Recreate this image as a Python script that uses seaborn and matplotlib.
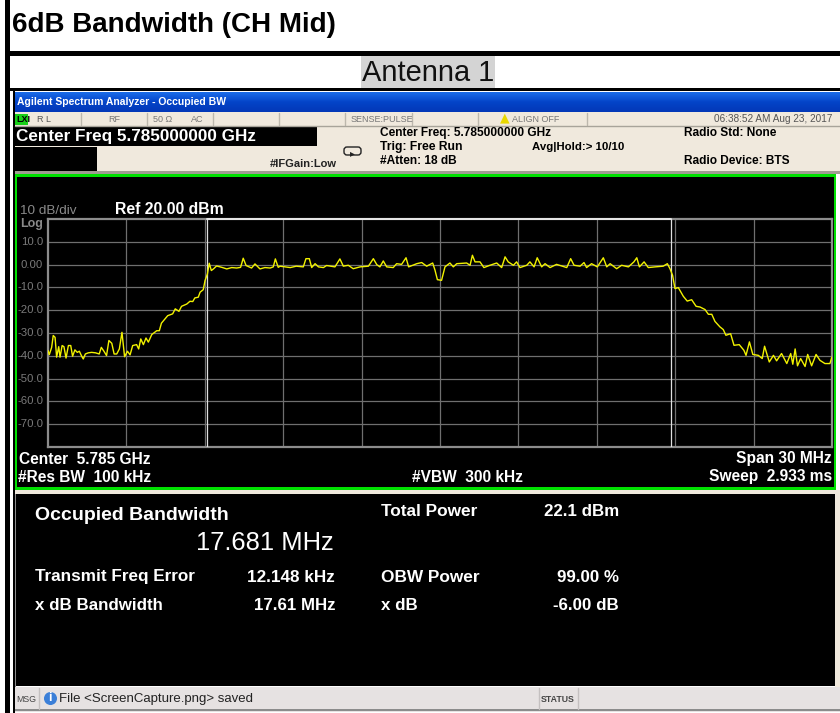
import numpy as np
import pandas as pd
import seaborn as sns
import matplotlib.pyplot as plt
from matplotlib.patches import Rectangle, FancyBboxPatch

title = "6dB Bandwidth (CH Mid)"
db_ticks = [10, 0, -10, -20, -30, -40, -50, -60, -70]
db_tick_labels = ["10.0", "0.00", "-10.0", "-20.0", "-30.0", "-40.0", "-50.0", "-60.0", "-70.0"]
freq_ticks = [-12, -9, -6, -3, 0, 3, 6, 9, 12]
obw_edges = [-8.9, 8.84]

# offset from center freq in MHz, level in dBm
left_freq = [-15.0, -14.95, -14.86, -14.80, -14.73, -14.67, -14.59, -14.54, -14.46, -14.39, -14.31, -14.22, -14.13,
             -14.06, -13.97, -13.88, -13.80, -13.71, -13.65, -13.57, -13.46, -13.33, -13.18, -13.04, -12.96, -12.86,
             -12.76, -12.67, -12.56, -12.47, -12.37, -12.27, -12.17, -12.07, -11.96, -11.86, -11.76, -11.61, -11.53,
             -11.45, -11.35, -11.25, -11.16, -11.03, -10.84, -10.74, -10.66, -10.52, -10.42, -10.23, -10.13, -9.99,
             -9.89, -9.69, -9.57, -9.46, -9.38, -9.25, -9.18, -9.06, -8.99, -8.90, -8.83, -8.75, -8.67, -8.55, -8.35,
             -8.16, -7.97, -7.78, -7.63, -7.53, -7.42, -7.21, -7.08, -6.89, -6.70, -6.50, -6.38, -6.30, -6.19]
left_db = [-37.7, -39.5, -36.3, -31.1, -31.9, -40.6, -36.0, -40.6, -35.5, -36.0, -41.0, -35.5, -35.5,
           -40.2, -37.4, -38.5, -38.0, -40.2, -41.4, -39.2, -38.7, -38.5, -38.7, -39.2, -36.3, -38.0,
           -39.9, -33.3, -34.5, -39.2, -39.2, -37.0, -29.7, -40.4, -38.0, -39.6, -35.5, -35.1, -37.0,
           -32.6, -35.1, -32.2, -34.0, -30.7, -29.0, -29.0, -25.7, -23.8, -22.4, -21.6, -19.4, -20.5,
           -18.3, -17.3, -16.1, -16.2, -14.6, -14.3, -12.1, -11.0, -7.0, -4.1, 0.6, -2.6, -1.9, -0.6, -1.2,
           -1.9, -1.3, -1.5, -1.2, 2.8, -0.4, -1.5, 0.3, -1.9, -1.3, -1.5, -1.0, 2.5, -1.2]
mid_freq = [-6.12, -5.73, -5.50, -5.23, -5.13, -5.00, -4.91, -4.78, -4.65, -4.46, -4.34, -4.02, -3.83, -3.70, -3.51,
            -3.32, -3.06, -2.74, -2.55, -2.42, -2.30, -2.17, -2.04, -1.79, -1.66, -1.47, -1.30, -1.20, -0.89, -0.70,
            -0.51, -0.28, -0.19, -0.10, 0.06, 0.19, 0.38, 0.51, 0.64, 1.02, 1.15, 1.24, 1.34, 1.53, 1.68, 1.91, 2.17,
            2.36, 2.49, 2.61, 2.81, 2.93, 3.06, 3.32, 3.44, 3.60, 3.72, 3.89, 4.02, 4.21, 4.46, 4.85, 5.00, 5.13, 5.36]
mid_db = [-0.7, -1.3, -0.7, -1.0, 2.6, 2.6, -1.3, 0.4, -1.0, -1.3, -0.4, -1.0, 2.5, -0.7, -0.3,
          -1.8, -1.0, -0.7, 2.6, 0.0, -1.0, 1.6, -1.0, -1.3, 0.4, 0.1, 3.0, -1.0, 0.4, 0.9,
          -0.7, 0.7, -2.5, -6.6, -6.9, -1.0, 0.7, -1.0, 0.4, 0.7, -0.3, 4.1, 1.2, 1.2, -1.3, -0.3, 0.7,
          -1.3, 3.4, 1.2, -0.3, 1.2, -1.3, -0.3, 1.2, -1.0, 3.0, -1.0, 0.4, -1.3, 0.1, -1.3, 2.6, -0.3, -0.7]
right_freq = [5.51, 5.61, 5.80, 6.02, 6.25, 6.38, 6.51, 6.76, 6.95, 7.21, 7.42, 7.53, 7.63, 7.81, 7.97, 8.23, 8.54,
              8.70, 8.80, 8.90, 8.99, 9.12, 9.31, 9.46, 9.63, 9.80, 9.95, 10.14, 10.27, 10.40, 10.52, 10.71, 10.84,
              10.94, 11.12, 11.25, 11.45, 11.63, 11.71, 11.84, 11.97, 12.18, 12.33, 12.42, 12.60, 12.76, 12.88, 13.07,
              13.27, 13.42, 13.50, 13.59, 13.68, 13.80, 13.97, 14.07, 14.22, 14.39, 14.54, 14.73, 14.92, 15.0]
right_db = [0.9, -1.3, 0.4, -1.0, 3.0, -1.0, 0.4, -1.8, -0.3, -1.0, 1.2, 3.0, -1.0, 1.2, -1.3, -1.0, -0.7,
            0.4, -1.8, -4.7, -10.5, -10.1, -13.9, -16.0, -15.4, -18.3, -18.6, -19.7, -21.8, -21.8, -24.9, -27.3, -28.5,
            -31.0, -30.3, -35.4, -35.1, -37.6, -39.8, -33.9, -39.4, -39.8, -41.2, -35.8, -42.7, -39.8, -42.2, -39.0,
            -43.4, -39.0, -43.7, -37.0, -44.4, -41.2, -44.7, -39.4, -44.4, -39.4, -42.0, -43.4, -43.4, -40.5]

W, H = 840, 713
GREY = "#8c8c8c"
BEIGE = "#f0e9dd"

sns.set_theme(style="white")
plt.rcParams['font.family'] = ['Liberation Sans', 'DejaVu Sans']
fig = plt.figure(figsize=(W / 100, H / 100), dpi=100, facecolor="white")

# page in pixel coordinates
page = fig.add_axes([0, 0, 1, 1])
page.set_xlim(0, W)
page.set_ylim(H, 0)
page.axis("off")


def box(x0, y0, x1, y1, color, z=1):
    page.add_patch(Rectangle((x0, y0), x1 - x0, y1 - y0, fc=color, ec="none", zorder=z))


def label(x, y, s, size=10.5, color="white", weight="bold", ha="left"):
    page.text(x, y + 1, s, fontsize=size, color=color, fontweight=weight, ha=ha, va="center", zorder=5)


# table borders
box(5, 0, 10, H, "black")
box(10, 51, W, 56, "black")
box(10, 88, W, 91, "black")
box(12.5, 91, 14.5, H, "black")
box(361, 56, 495, 88, "#d4d4d4")
label(12, 24, title, size=20, color="black")
label(428, 72, "Antenna 1", size=20.9, color="#111111", weight="normal", ha="center")

# analyzer window
page.imshow(np.linspace(0, 1, 21).reshape(-1, 1), extent=(14.5, W, 112, 92), aspect="auto", zorder=1,
            cmap=plt.cm.colors.LinearSegmentedColormap.from_list("bar", ["#1a6be8", "#0444c8", "#0338b8"]))
page.set_xlim(0, W)
page.set_ylim(H, 0)
box(14.5, 112, W, 174, BEIGE)
box(14.5, 171, W, 173.5, "#a09c92", 2)
box(14.5, 174, 836, 490, "#00e000", 2)
box(17, 177, 833.5, 487, "black", 2)
box(14.5, 490, W, 494, BEIGE, 2)
box(14.5, 494, 15.5, 687, "#8c8c8c", 2)
box(15.5, 494, 835, 686, "black", 2)
box(835, 490, W, 690, BEIGE, 2)
box(14.5, 687, W, 712, "#e6e2e2", 2)
box(14.5, 709, W, 711, "#8c8c8c", 2)
box(14.5, 126, 317, 146, "black", 2)
box(14.5, 147, 97, 171, "black", 2)
box(15, 114, 28, 125, "#18d018", 2)
for x in [81, 147, 213, 279, 345, 412, 478, 587]:
    page.plot([x, x], [113, 125], color="#bdb8ad", lw=1, zorder=3)
page.plot([14.5, W], [125.5, 125.5], color="#a8a49a", lw=1, zorder=3)
for x in [39, 539, 578]:
    page.plot([x, x], [688, 709], color="#c4c0c0", lw=1, zorder=3)

label(17, 101, "Agilent Spectrum Analyzer - Occupied BW", size=7.5, weight="bold")
label(16, 118, "LXI", size=6.5, color="black")
label(37, 118, "R L", size=6.5, color="#555555", weight="normal")
label(108, 118, "RF", size=6.5, color="#777777", weight="normal")
label(153, 118, "50 Ω", size=6.5, color="#777777", weight="normal")
label(191, 118, "AC", size=6.5, color="#777777", weight="normal")
label(351, 118, "SENSE:PULSE", size=6.5, color="#777777", weight="normal")
label(512, 118, "ALIGN OFF", size=6.5, color="#777777", weight="normal")
page.text(505, 118, "▲", fontsize=9, color="#e8d800", ha="center", va="center", zorder=5, family="DejaVu Sans")
label(832, 118, "06:38:52 AM Aug 23, 2017", size=7.2, color="#555555", weight="normal", ha="right")
label(16, 135, "Center Freq 5.785000000 GHz", size=12.3)
label(380, 132, "Center Freq: 5.785000000 GHz", size=8.6, color="black")
label(380, 146, "Trig: Free Run", size=8.7, color="black")
label(380, 160, "#Atten: 18 dB", size=8.6, color="black")
label(532, 146, "Avg|Hold:> 10/10", size=8.2, color="black")
label(684, 132, "Radio Std: None", size=8.6, color="black")
label(684, 160, "Radio Device: BTS", size=8.6, color="black")
label(270, 163, "#IFGain:Low", size=8, color="#222222")
page.add_patch(FancyBboxPatch((344, 147), 17, 8, boxstyle="round,pad=0,rounding_size=3",
                              fc=BEIGE, ec="#222222", lw=1, zorder=3))
page.text(352, 153, "▸", fontsize=7, color="#222222", ha="center", va="center", zorder=5, family="DejaVu Sans")

label(20, 210, "10 dB/div", size=9.7, color="#8a8a8a", weight="normal")
label(115, 209, "Ref 20.00 dBm", size=11.3)
label(20, 223, "Log", size=9, color="#8a8a8a", weight="bold")
label(19, 458, "Center  5.785 GHz", size=11.2)
label(18, 476, "#Res BW  100 kHz", size=11.2)
label(412, 476, "#VBW  300 kHz", size=11.2)
label(832, 458, "Span 30 MHz", size=11.2, ha="right")
label(832, 476, "Sweep  2.933 ms", size=11.2, ha="right")

label(35, 514, "Occupied Bandwidth", size=14)
label(334, 542, "17.681 MHz", size=18.4, ha="right", weight="normal")
label(35, 576, "Transmit Freq Error", size=12.3)
label(335, 576, "12.148 kHz", size=12.3, ha="right")
label(35, 604, "x dB Bandwidth", size=12.2)
label(335, 604, "17.61 MHz", size=12.2, ha="right")
label(381, 511, "Total Power", size=12.4)
label(619, 511, "22.1 dBm", size=12.2, ha="right")
label(381, 576, "OBW Power", size=12.4)
label(619, 576, "99.00 %", size=12.2, ha="right")
label(381, 604, "x dB", size=12.2)
label(619, 604, "-6.00 dB", size=12.2, ha="right")
label(16, 698, "MSG", size=6.3, color="#444444", weight="normal")
page.scatter([50], [698], s=70, color="#3b7fd8", zorder=4)
page.text(50, 698, "i", fontsize=9, color="white", fontweight="bold", ha="center", va="center", zorder=5)
label(59, 698, "File <ScreenCapture.png> saved", size=9.5, color="#222222", weight="normal")
label(541, 698, "STATUS", size=6.3, color="#444444")

# trace axes: 48..832 px wide, 219..447 px high
ax = fig.add_axes([48 / W, 1 - 447 / H, 784 / W, 228 / H], facecolor="black", zorder=3)
trace = pd.DataFrame({"freq": left_freq + mid_freq + right_freq, "level": left_db + mid_db + right_db})
sns.lineplot(data=trace, x="freq", y="level", color="#f2f200", lw=1.0, ax=ax, estimator=None, sort=False, zorder=4)
ax.set_xlim(-15, 15)
ax.set_ylim(-80, 20)
ax.set_xticks(freq_ticks)
ax.set_yticks(db_ticks)
ax.set_xticklabels([])
ax.set_yticklabels([])
ax.set_xlabel("")
ax.set_ylabel("")
ax.tick_params(length=0)
ax.grid(True, color="#6f6f6f", lw=0.9)
ax.set_axisbelow(True)
for s in ax.spines.values():
    s.set_color(GREY)
    s.set_linewidth(1.6)
for edge in obw_edges:
    ax.axvline(edge, color="#e0e0e0", lw=0.9, zorder=3)
ax.plot(obw_edges, [20, 20], color="#e8e8e8", lw=1.4, zorder=5, clip_on=False)

for val, txt in zip(db_ticks, db_tick_labels):
    label(43, 446 - (val + 80) * 2.28, txt, size=8.2, color="#7a7a7a", weight="normal", ha="right")

fig.savefig("out.png", dpi=100, facecolor="white")
